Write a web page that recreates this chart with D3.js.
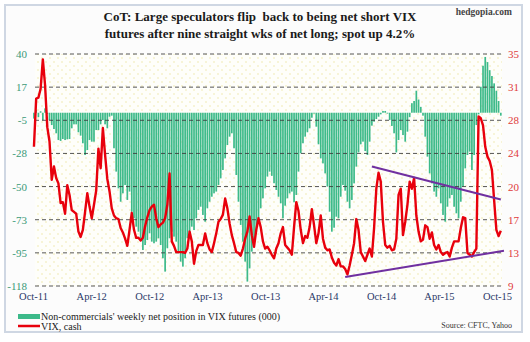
<!DOCTYPE html>
<html><head><meta charset="utf-8">
<script src="https://cdn.jsdelivr.net/npm/d3@7"></script>
<style>body{margin:0;background:#fff}svg{display:block}</style>
</head><body>
<svg id="c" width="530" height="342"></svg>
<script>
// ---------------- DATA ----------------
const startDate = "2011-10-04"; // first weekly observation (Tuesdays)
const netPositions = [
  -4, 2, -3, 1, -5, 3, -1,
  -5, -8.4, -11.1, -14, -18.6, -19.2, -17.9, -18.6, -18.1, -17.9, -10.6, -7.9, -7.9, -13.3, -15.6, -20.8, -28.8, -25.4, -18.6, -19.7, -19.7, -11.8, -11.8, -7.9, -5, -7.9, -10.6, -2.7, -2.0, -24.2, -40.1, -51.5, -60.6, -54.9, -49.2, -59.4, -53.7, -67.4, -71.9, -77.6, -81, -85.5, -93.5, -90.1, -86.7, -82.1, -87.8, -88.9,
  -87.8, -85.5, -90.1, -99.1, -108.2, -92.3, -85.5, -81, -84.4, -87.8, -94.6, -101.4, -104.8, -99.1, -85.5, -81, -77.6, -79.9, -71.9, -66.2, -64, -69.6, -74.2, -65.1, -60.6, -57.2, -54.9, -53.7, -49.2, -44.7, -39, -31.1, -22, -16.3, -14, -24.2, -42.4, -60.6, -76.4, -87.8, -101.4, -115, -106, -94.6, -87.8, -81, -71.9, -65.1, -58.3, -51.5, -43.5, -40.1, -43, -48,
  -52.6, -57.2, -61.7, -71.9, -63.3, -58.3, -54.9, -53.7, -61, -56, -40.1, -27.6, -20.8, -16.3, -13.3, -10.6, -3.4, -0.6, -9.5, -21.5, -31.1, -34.5, -41.3, -50.3, -67.4, -81, -78.3, -70.8, -71.9, -57.2, -49.2, -53.1, -60.6, -65.1, -59.4, -48.1, -36.7, -27, -21.5, -19.7, -26.1, -28.8, -19.7, -8.8, -6.1, -4.3, -2.7, -1.1, 1.2, 1.2, -0.6, -5, -9, -14,
  -27, -18.6, -11.8, -15.2, -19.7, -12.9, -3, 6.5, 8, 15, 9, 4, -2,
  -16.3, -29.9, -41.3, -48.1, -53.7, -57.2, -51.5, -61.7, -69.6, -74.2, -64, -58.3, -56, -64, -68.5, -71.9, -60.6, -50.3, -37.9, -28.8, -26.5, -39, -28.8, -8.4, -1.1,
  17.7, 32, 38, 34.5, 29, 25, 20, 15, 8, -2
];
const vixCash = [
  24.6, 30.0, 30.1, 31.1, 34.4, 31.5, 26.8, 25.2, 20.9, 22.4, 21.1, 20.5, 18.3, 18.4, 17.1, 20.3, 19.2, 17.5, 17.3, 17.1, 15.1, 14.5, 15.3, 17.3, 19.4, 17.9, 16.6, 18.1, 19.7, 24.4, 22.2, 26.7, 23.7, 21.0, 19.6, 17.7, 16.9, 16.6, 16.5, 15.5, 15.0, 14.3, 13.5, 15.3, 17.2, 15.3, 14.4, 14.4, 14.1, 14.4, 15.7, 16.7, 17.5, 17.9, 18.1,
  16.6, 15.6, 15.9, 16.1, 16.6, 18.1, 21.6, 14.0, 13.5, 12.8, 12.8, 12.8, 12.8, 12.7, 13.2, 15.1, 14.0, 11.5, 12.9, 13.6, 13.6, 13.6, 14.9, 13.8, 13.1, 12.8, 13.8, 14.9, 16.2, 16.5, 17.0, 18.8, 17.7, 16.0, 14.7, 13.8, 12.8, 12.7, 12.4, 13.2, 14.3, 15.1, 16.8, 14.7, 13.4, 15.3, 16.6, 15.6, 14.0, 13.2, 13.4, 13.0, 12.5, 12.1,
  13.2, 13.8, 14.9, 15.6, 13.6, 13.3, 13.0, 12.5, 15.6, 18.4, 17.4, 15.3, 13.8, 14.6, 14.4, 15.6, 17.6, 15.8, 13.8, 14.9, 16.9, 14.3, 13.3, 13.0, 13.1, 12.2, 11.6, 11.3, 12.0, 11.2, 11.2, 10.9, 10.3, 11.3, 12.5, 13.8, 16.5, 15.3, 12.8, 12.3, 11.8, 12.5, 13.2, 12.3, 15.5, 19.9, 21.7, 20.7, 16.2, 13.6, 13.3, 13.5, 13.0, 13.1,
  14.3, 19.2, 19.9, 14.7, 16.2, 18.1, 20.7, 19.9, 21.1, 16.9, 15.1, 14.0, 14.2,
  15.8, 15.6, 14.3, 15.0, 13.6, 13.1, 13.6, 12.8, 12.5, 12.7, 12.8, 12.3, 13.3, 14.0, 14.0, 14.0, 15.5, 16.7, 16.6, 12.7, 12.5, 12.3, 12.8, 13.2,
  28.0, 27.8, 27.0, 24.6, 23.5, 23.0, 22.0, 18.6, 15.3, 14.6, 15.2
];
const leftTickLabels  = ["-118", "-95", "-73", "-50", "-28", "-5", "17", "40"];
const rightTickLabels = ["9", "13", "17", "20", "24", "28", "31", "35"];
const xTickLabels = ["Oct-11", "Apr-12", "Oct-12", "Apr-13", "Oct-13", "Apr-14", "Oct-14", "Apr-15", "Oct-15"];
const upperTrend = [["2014-09-02", 22.4], ["2015-10-13", 18.7]];
const lowerTrend = [["2014-06-10", 10.0], ["2015-10-23", 12.95]];
const titleLines = ["CoT: Large speculators flip  back to being net short VIX",
                    "futures after nine straight wks of net long; spot up 4.2%"];

// ---------------- CHART ----------------
const svg = d3.select("#c");
const serif = "'Liberation Serif','Times New Roman',serif";
const parseISO = d3.utcParse("%Y-%m-%d");
const parseLbl = d3.utcParse("%b-%y");
const t0 = parseISO(startDate);
const dates = netPositions.map((_, i) => d3.utcDay.offset(t0, 7 * i));
const bars = netPositions.map((v, i) => ({date: dates[i], v}));
const vix = vixCash.map((v, i) => ({date: dates[i], v}));
const xDates = xTickLabels.map(parseLbl);

const PL = 35, PR = 502, PT = 54, PB = 286;
const x = d3.scaleUtc().domain([xDates[0], xDates[xDates.length - 1]]).range([33, 497]);
const yL = d3.scaleLinear().domain([-118, 40]).range([PB, PT]);
const yR = d3.scaleLinear().domain([9, 35]).range([PB, PT]);
const leftTicks = d3.range(8).map(k => -118 + k * 158 / 7);
const rightTicks = d3.range(8).map(k => 9 + k * 26 / 7);

// defs
const defs = svg.append("defs");
const pat = defs.append("pattern").attr("id", "dots").attr("patternUnits", "userSpaceOnUse")
  .attr("width", 8).attr("height", 8);
pat.append("rect").attr("width", 8).attr("height", 8).attr("fill", "#fefefa");
pat.append("circle").attr("cx", 2).attr("cy", 2).attr("r", 0.7).attr("fill", "#ece49a");
pat.append("circle").attr("cx", 6).attr("cy", 6).attr("r", 0.7).attr("fill", "#ece49a");

// frame
svg.append("rect").attr("x", 5).attr("y", 5).attr("width", 517).attr("height", 327)
  .attr("fill", "#fcfcfc").attr("stroke", "#cfd7e3").attr("stroke-width", 2);
svg.append("rect").attr("x", PL).attr("y", PT).attr("width", PR - PL).attr("height", PB - PT)
  .attr("fill", "url(#dots)");

// title
svg.append("g").selectAll("text").data(titleLines).join("text")
  .attr("x", 260).attr("y", (d, i) => 21 + i * 16.5)
  .attr("text-anchor", "middle").attr("font-family", serif).attr("font-weight", "bold")
  .attr("font-size", 13).attr("fill", "#1a1a1a").attr("xml:space", "preserve")
  .style("white-space", "pre").text(d => d);
svg.append("text").attr("x", 512).attr("y", 14.5).attr("text-anchor", "end")
  .attr("font-family", serif).attr("font-weight", "bold").attr("font-size", 9.5)
  .attr("fill", "#444").text("hedgopia.com");

// bars
const bw = 1.7;
svg.append("g").selectAll("rect").data(bars).join("rect")
  .attr("x", d => x(d.date) - bw / 2)
  .attr("y", d => yL(Math.max(0, d.v)))
  .attr("width", bw)
  .attr("height", d => Math.abs(yL(d.v) - yL(0)))
  .attr("fill", "#3dba8a");

// gridlines
svg.append("g").selectAll("line").data(leftTicks).join("line")
  .attr("x1", PL).attr("x2", PR)
  .attr("y1", d => yL(d)).attr("y2", d => yL(d))
  .attr("stroke", "#3a3a3a").attr("stroke-width", 1).attr("stroke-dasharray", "4,3")
  .attr("opacity", 0.85);

// axes
const gL = svg.append("g").attr("transform", `translate(${PL},0)`)
  .call(d3.axisLeft(yL).tickValues(leftTicks).tickFormat((d, i) => leftTickLabels[i]).tickSize(0).tickPadding(8));
const gR = svg.append("g").attr("transform", `translate(${PR},0)`)
  .call(d3.axisRight(yR).tickValues(rightTicks).tickFormat((d, i) => rightTickLabels[i]).tickSize(0).tickPadding(6));
const gX = svg.append("g").attr("transform", `translate(0,${PB})`)
  .call(d3.axisBottom(x).tickValues(xDates).tickFormat((d, i) => xTickLabels[i]).tickSize(0).tickPadding(7));
[gL, gR, gX].forEach(g => { g.select(".domain").remove(); g.selectAll("text").attr("font-family", serif); });
gL.selectAll("text").attr("font-size", 11).attr("fill", "#3a9a78");
gR.selectAll("text").attr("font-size", 11).attr("fill", "#e03a3a");
gX.selectAll("text").attr("font-size", 10.5).attr("fill", "#2a3868");

// VIX line
const line = d3.line().x(d => x(d.date)).y(d => yR(d.v));
svg.append("path").datum(vix).attr("d", line).attr("fill", "none")
  .attr("stroke", "#e8000c").attr("stroke-width", 2.4).attr("stroke-linejoin", "round");

// trend lines
const tl = d3.line().x(d => x(parseISO(d[0]))).y(d => yR(d[1]));
[upperTrend, lowerTrend].forEach(t => svg.append("path").datum(t).attr("d", tl)
  .attr("fill", "none").attr("stroke", "#7030a0").attr("stroke-width", 2));

// legend
svg.append("rect").attr("x", 18).attr("y", 314).attr("width", 22).attr("height", 5).attr("fill", "#3dba8a");
svg.append("line").attr("x1", 18).attr("x2", 40).attr("y1", 326).attr("y2", 326)
  .attr("stroke", "#e8000c").attr("stroke-width", 2.5);
svg.append("text").attr("x", 41).attr("y", 320).attr("font-family", serif).attr("font-size", 10)
  .attr("fill", "#222").text("Non-commercials' weekly net position in VIX futures (000)");
svg.append("text").attr("x", 41).attr("y", 330).attr("font-family", serif).attr("font-size", 10)
  .attr("fill", "#222").text("VIX, cash");
svg.append("text").attr("x", 512).attr("y", 328).attr("text-anchor", "end").attr("font-family", serif)
  .attr("font-size", 8).attr("fill", "#333").text("Source: CFTC, Yahoo");
</script>
</body></html>
